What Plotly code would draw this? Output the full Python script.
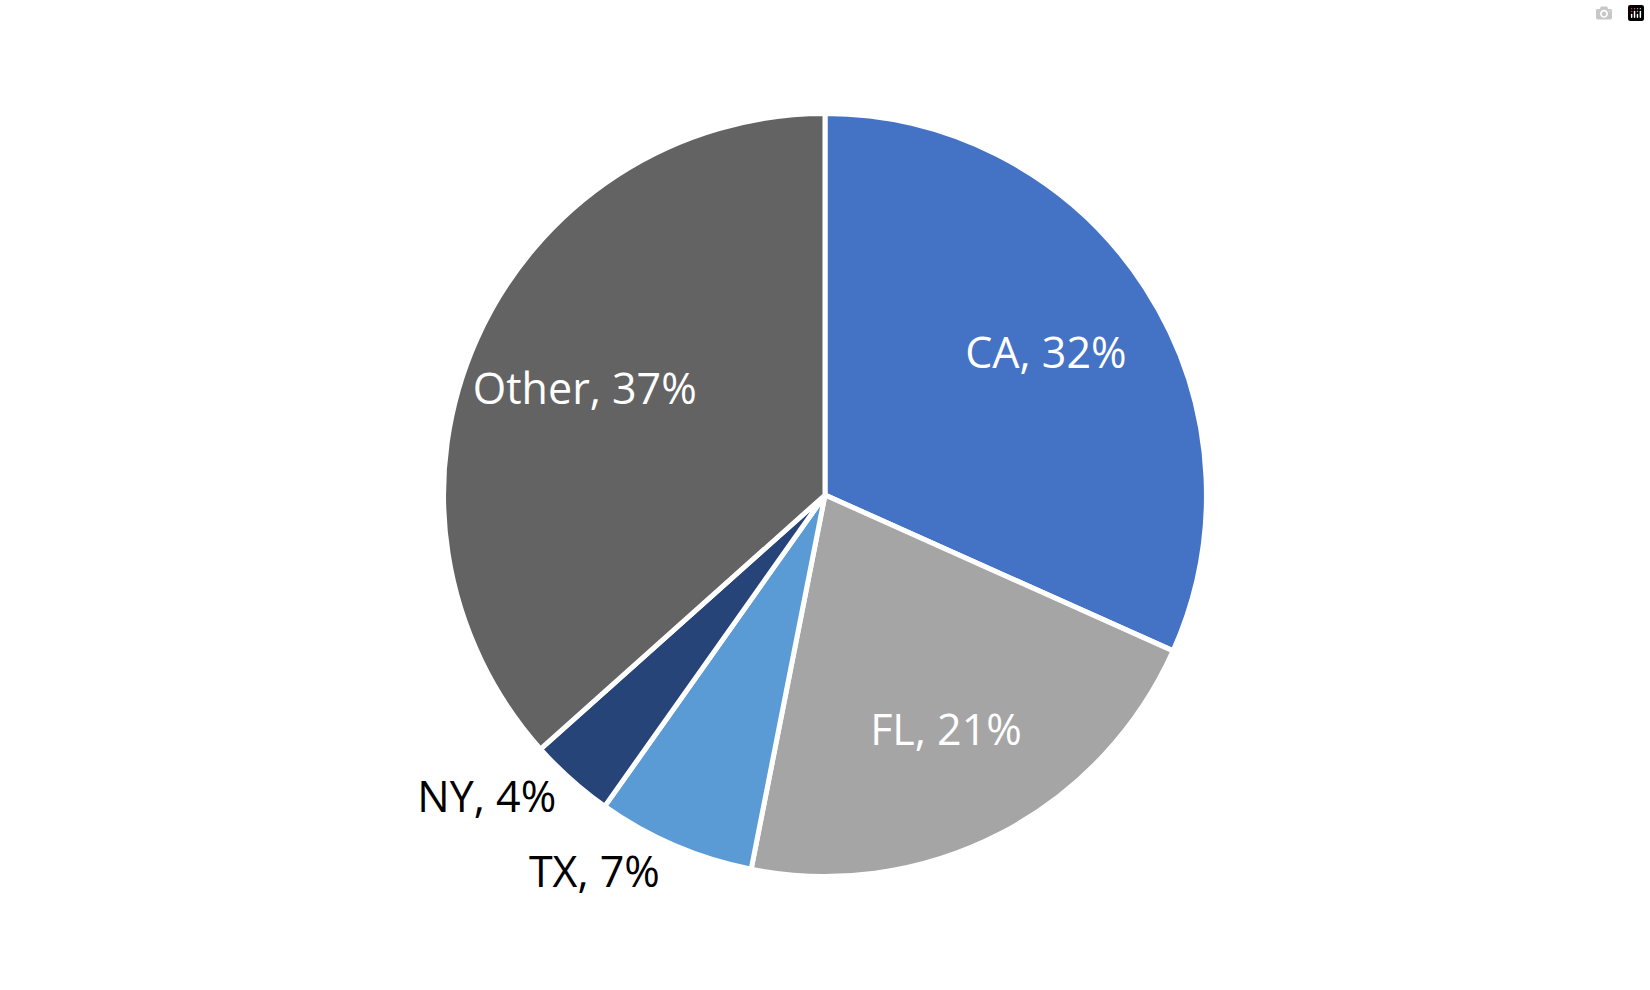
import plotly.graph_objects as go

# Share of total by state
states = ['CA', 'FL', 'TX', 'NY', 'Other']
shares = [31.7, 21.4, 6.7, 3.6, 36.6]
colors = ['#4472C4', '#A5A5A5', '#5B9BD5', '#264478', '#636363']
label_pos = ['inside', 'inside', 'outside', 'outside', 'inside']

pie_domain = dict(x=[0, 1], y=[0.1147, 0.8853])

fig = go.Figure()

# the coloured slices
fig.add_trace(go.Pie(
    labels=states,
    values=shares,
    sort=False,
    direction='clockwise',
    rotation=0,
    marker=dict(colors=colors, line=dict(color='white', width=5)),
    textinfo='none',
    hoverinfo='label+percent',
    domain=pie_domain,
))

# transparent ring on top, only used to carry the labels a bit further out
fig.add_trace(go.Pie(
    labels=states,
    values=shares,
    sort=False,
    direction='clockwise',
    rotation=0,
    hole=0.38,
    marker=dict(colors=['rgba(0,0,0,0)'] * len(states), line=dict(width=0)),
    texttemplate='%{label}, %{percent:.0%}',
    textposition=label_pos,
    insidetextorientation='horizontal',
    insidetextfont=dict(color='white', size=43, family='Open Sans'),
    outsidetextfont=dict(color='black', size=43, family='Open Sans'),
    hoverinfo='skip',
    domain=pie_domain,
))

fig.update_layout(
    width=1650,
    height=990,
    # autoexpand off, otherwise the pie labels push the margins and the pie drifts right
    margin=dict(l=0, r=0, t=0, b=0, autoexpand=False),
    showlegend=False,
    paper_bgcolor='white',
    plot_bgcolor='white',
    font=dict(family='Open Sans'),
)

fig.write_html('out.html', post_script="document.body.style.margin='0';")
